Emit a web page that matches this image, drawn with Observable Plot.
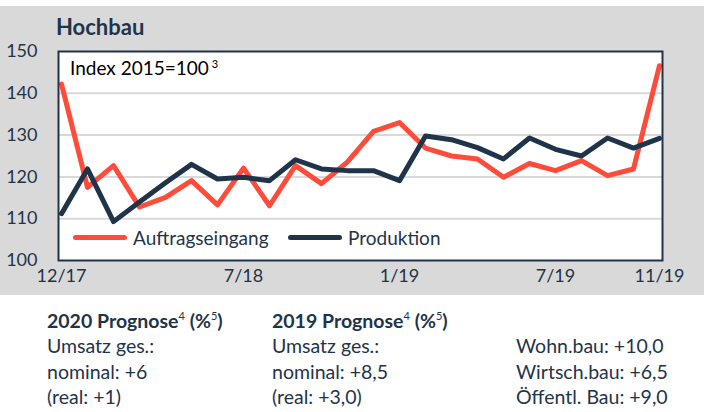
<!DOCTYPE html>
<html><head><meta charset="utf-8">
<script src="https://cdn.jsdelivr.net/npm/d3@7"></script>
<script src="https://cdn.jsdelivr.net/npm/@observablehq/plot@0.6"></script>
<style>
body{margin:0;background:#fff;font-family:Lato,"Open Sans",sans-serif;color:#1f3449;}
#wrap{position:relative;width:704px;height:412px;overflow:hidden;}
#panel{position:absolute;left:0;top:6px;width:704px;height:289px;background:#d9d9d9;}
#chart{position:absolute;left:0;top:0;}
.abs{position:absolute;white-space:nowrap;line-height:1.2;}
#title{left:56px;top:7.5px;font-weight:700;font-size:22px;}
#index{left:70px;top:51px;font-size:19px;color:#000;}
#index sup{font-size:11px;line-height:0;vertical-align:7px;margin-left:3px;}
.sw{position:absolute;height:5px;border-radius:3px;}
.leg{font-size:19px;}
.col{position:absolute;top:307.5px;font-size:19.5px;white-space:nowrap;}
.col div{height:25.5px;line-height:25.5px;}
.col sup{font-weight:400;font-size:11px;line-height:0;vertical-align:8px;}
</style></head>
<body>
<div id="wrap">
  <div id="panel">
    <div id="chart"></div>
    <div class="abs" id="title"></div>
    <div class="abs" id="index"></div>
    <div class="sw" id="sw1" style="left:73px;top:229px;width:54px;background:#ff4b3a"></div>
    <div class="abs leg" id="leg1" style="left:133px;top:221px"></div>
    <div class="sw" id="sw2" style="left:288px;top:229px;width:54px;background:#1f3449"></div>
    <div class="abs leg" id="leg2" style="left:348px;top:221px"></div>
  </div>
  <div class="col" id="c1" style="left:47px"></div>
  <div class="col" id="c2" style="left:272px"></div>
  <div class="col" id="c3" style="left:516px"></div>
</div>
<script>
const months = ["12/17","1/18","2/18","3/18","4/18","5/18","6/18","7/18","8/18","9/18","10/18","11/18","12/18","1/19","2/19","3/19","4/19","5/19","6/19","7/19","8/19","9/19","10/19","11/19"];
const auftragseingang = [142.2,117.5,122.7,112.8,115.1,119.1,113.3,122.1,113.1,122.7,118.4,123.6,130.9,133.0,126.9,125.0,124.3,119.9,123.2,121.5,123.9,120.3,121.9,146.6];
const produktion = [111.2,121.9,109.3,114.0,118.6,123.0,119.5,119.9,119.1,124.1,121.9,121.5,121.5,119.1,129.8,128.9,127.0,124.3,129.3,126.6,125.0,129.3,126.9,129.2];
const xTicks = ["12/17","7/18","1/19","7/19","11/19"];
const yTicks = [100,110,120,130,140,150];
const gridValues = [110,120,130,140];
const seriesNames = ["Auftragseingang","Produktion"];
const seriesColors = ["#ff4b3a","#1f3449"];
const titleText = "Hochbau";
const indexText = "Index 2015=100";
const col1 = ["<b>2020 Prognose<sup>4</sup> (%<sup>5</sup>)</b>","Umsatz ges.:","nominal: +6","(real: +1)"];
const col2 = ["<b>2019 Prognose<sup>4</sup> (%<sup>5</sup>)</b>","Umsatz ges.:","nominal: +8,5","(real: +3,0)"];
const col3 = ["&nbsp;","Wohn.bau: +10,0","Wirtsch.bau: +6,5","Öffentl. Bau: +9,0"];

document.getElementById("title").textContent = titleText;
document.getElementById("index").innerHTML = indexText + "<sup>3</sup>";
document.getElementById("leg1").textContent = seriesNames[0];
document.getElementById("leg2").textContent = seriesNames[1];
const fill = (id, lines) => document.getElementById(id).innerHTML = lines.map(l => "<div>" + l + "</div>").join("");
fill("c1", col1); fill("c2", col2); fill("c3", col3);

const chart = Plot.plot({
  width: 704, height: 289,
  marginTop: 45, marginBottom: 35, marginLeft: 58, marginRight: 42,
  style: {background: "transparent", fontFamily: "Lato", fontSize: "18px", color: "#1f3449", overflow: "visible"},
  x: {type: "point", domain: months, padding: 0},
  y: {domain: [100, 150]},
  marks: [
    Plot.frame({fill: "white", stroke: null}),
    Plot.ruleY(gridValues, {stroke: "#d9d9d9", strokeWidth: 2}),
    Plot.lineY(months, {x: d => d, y: (d, i) => auftragseingang[i], stroke: seriesColors[0], strokeWidth: 5}),
    Plot.lineY(months, {x: d => d, y: (d, i) => produktion[i], stroke: seriesColors[1], strokeWidth: 5}),
    Plot.frame({stroke: "#1f3449", strokeWidth: 2}),
    Plot.axisX({ticks: xTicks, tickSize: 0, tickPadding: 9, label: null}),
    Plot.axisY({ticks: yTicks, tickSize: 0, tickPadding: 21, label: null})
  ]
});
document.getElementById("chart").appendChild(chart);
</script>
</body></html>
